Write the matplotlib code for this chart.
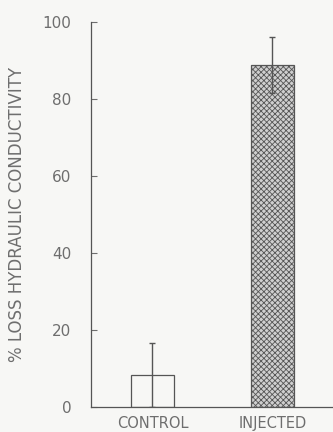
import matplotlib
matplotlib.use("Agg")
import matplotlib.pyplot as plt

# Loss of hydraulic conductivity by treatment
categories = ["CONTROL", "INJECTED"]
loss_pct = [8.2, 88.8]
loss_err = [8.4, 7.3]
y_ticks = [0, 20, 40, 60, 80, 100]

ink = "#6e6e6e"
paper = "#f7f7f5"

plt.rcParams["hatch.linewidth"] = 0.6
plt.rcParams["hatch.color"] = "#777777"

fig = plt.figure(figsize=(3.33, 4.32), dpi=100, facecolor=paper)
ax = fig.add_axes([0.273, 0.0586, 0.727, 0.8906], facecolor=paper)

x = [0, 1]
hatches = [None, "xxxxxx"]
for xi, val, h in zip(x, loss_pct, hatches):
    ax.bar(xi, val, width=0.36, facecolor="none" if h is None else "#cfcfcf",
           edgecolor="#555555", linewidth=0.9, hatch=h, zorder=2)

ax.errorbar(x, loss_pct, yerr=[[min(v, e) for v, e in zip(loss_pct, loss_err)], loss_err],
            fmt="none", ecolor="#555555", elinewidth=1.0, capsize=2.5,
            capthick=1.0, zorder=3)

ax.set_xlim(-0.512, 1.504)
ax.set_ylim(0, 100)
ax.set_yticks(y_ticks)
ax.set_xticks(x)
ax.set_xticklabels(categories)

for side in ("top", "right"):
    ax.spines[side].set_visible(False)
for side in ("left", "bottom"):
    ax.spines[side].set_color("#555555")
    ax.spines[side].set_linewidth(0.9)

ax.tick_params(axis="y", direction="in", length=4, width=0.8, color=ink,
               labelsize=11, labelcolor=ink, pad=14)
ax.tick_params(axis="x", length=0, labelsize=10.5, labelcolor=ink, pad=7)

ax.set_ylabel("% LOSS HYDRAULIC CONDUCTIVITY", fontsize=12, color=ink)
ax.yaxis.set_label_coords(-0.27, 0.5)

fig.savefig("out.png", dpi=100, facecolor=paper)
